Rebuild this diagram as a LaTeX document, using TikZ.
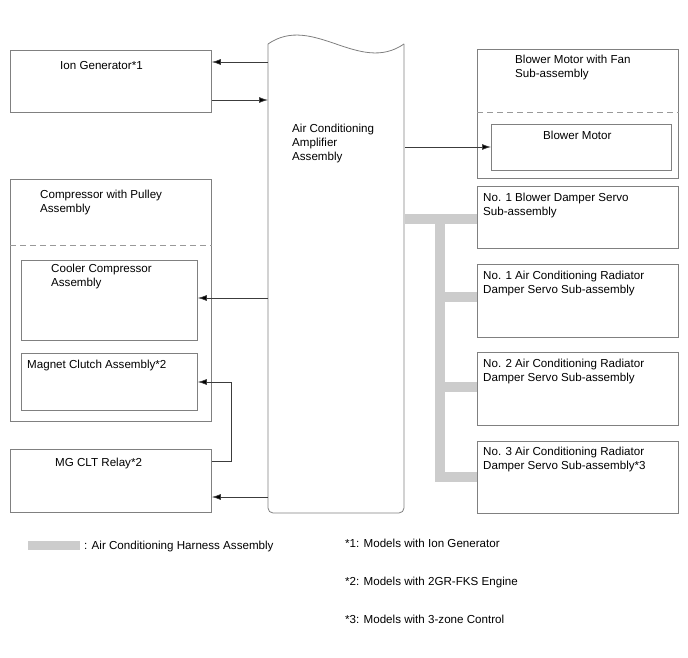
\documentclass[tikz,border=0pt]{standalone}
\usepackage{fontspec}
\setmainfont{Liberation Sans}
\usetikzlibrary{arrows.meta}
\definecolor{bordergray}{RGB}{128,128,128}
\definecolor{harnessgray}{RGB}{204,204,204}
\definecolor{linegray}{RGB}{60,60,60}
\begin{document}
\begin{tikzpicture}[x=1pt,y=-1pt,
  box/.style={draw=bordergray,line width=0.8pt,rectangle,inner sep=0pt,anchor=north west},
  lbl/.style={anchor=north west,inner sep=0pt,align=left,font=\fontsize{11.6}{14}\selectfont,execute at begin node=\strut,yshift=-1.5pt},
  arr/.style={draw=linegray,line width=0.7pt,-{Latex[length=9pt,width=6pt,fill=black]}},
  harness/.style={draw=harnessgray,line width=10pt},
  sep/.style={draw=bordergray!80,line width=0.8pt,dash pattern=on 6pt off 4pt}]
\useasboundingbox (0,0) rectangle (688,658);
% central amplifier
\node[box,draw=none,minimum width=136pt,minimum height=469pt] (amp) at (268,44) {};
\draw[bordergray,line width=0.8pt,rounded corners=5pt]
  (404,44) -- (404,513) -- (268,513) -- (268,44);
\draw[bordergray,line width=0.8pt]
  (268,44) .. controls (313,13) and (359,75) .. (404,44);
\node[lbl] (ampl) at (292,122.2) {Air Conditioning\\Amplifier\\Assembly};
% ion generator
\node[box,minimum width=201pt,minimum height=62pt] (ion) at (10,50) {};
\node[lbl] (ionl) at (60,57.7) {Ion Generator*1};
% blower
\node[box,minimum width=201pt,minimum height=129pt] (blw) at (477,49) {};
\node[lbl] (blwl) at (515,53.2) {Blower Motor with Fan\\Sub-assembly};
\draw[sep] (blw.west |- 0,112) -- (blw.east |- 0,112);
\node[box,minimum width=180pt,minimum height=46pt] (bm) at (491,124) {};
\node[lbl] (bml) at (543,128.2) {Blower Motor};
% compressor
\node[box,minimum width=201pt,minimum height=242pt] (cmp) at (10,179) {};
\node[lbl] (cmpl) at (40,188.2) {Compressor with Pulley\\Assembly};
\draw[sep] (cmp.west |- 0,245) -- (cmp.east |- 0,245);
\node[box,minimum width=176pt,minimum height=80pt] (ccp) at (21,260) {};
\node[lbl] (ccpl) at (51,262.2) {Cooler Compressor\\Assembly};
\node[box,minimum width=176pt,minimum height=57pt] (mag) at (21,353) {};
\node[lbl] (magl) at (27,357.2) {Magnet Clutch Assembly*2};
% relay
\node[box,minimum width=201pt,minimum height=63pt] (rly) at (10,449) {};
\node[lbl] (rlyl) at (55,455.2) {MG CLT Relay*2};
% right servos
\node[box,minimum width=201pt,minimum height=62pt] (d1) at (477,186) {};
\node[lbl] (d1l) at (483,191.2) {No. 1 Blower Damper Servo\\Sub-assembly};
\node[box,minimum width=201pt,minimum height=73pt] (d2) at (477,264) {};
\node[lbl] (d2l) at (483,269.2) {No. 1 Air Conditioning Radiator\\Damper Servo Sub-assembly};
\node[box,minimum width=201pt,minimum height=73pt] (d3) at (477,352) {};
\node[lbl] (d3l) at (483,357.2) {No. 2 Air Conditioning Radiator\\Damper Servo Sub-assembly};
\node[box,minimum width=201pt,minimum height=72pt] (d4) at (477,441) {};
\node[lbl] (d4l) at (483,445.2) {No. 3 Air Conditioning Radiator\\Damper Servo Sub-assembly*3};
% harness
\coordinate (ht) at (440,214);
\coordinate (hb) at (440,482);
\draw[harness] (amp.east |- 0,219) -- (d1.west |- 0,219);
\draw[harness] (ht) -- (hb);
\draw[harness] (440,297) -- (d2.west |- 0,297);
\draw[harness] (440,387) -- (d3.west |- 0,387);
\draw[harness] (440,477) -- (d4.west |- 0,477);
% arrows
\draw[arr] (amp.west |- 0,62) -- (ion.east |- 0,62);
\draw[arr] (ion.east |- 0,100) -- (amp.west |- 0,100);
\draw[arr] (amp.east |- 0,147) -- (bm.west |- 0,147);
\draw[arr] (amp.west |- 0,298) -- (ccp.east |- 0,298);
\coordinate (k) at (231,461);
\draw[arr] (rly.east |- k) -- (k) |- (mag.east |- 0,382);
\draw[arr] (amp.west |- 0,497) -- (rly.east |- 0,497);
% legend
\coordinate (lg1) at (28,545);
\coordinate (lg2) at (80,545);
\draw[draw=harnessgray,line width=9pt] (lg1) -- (lg2);
\node[lbl] (lgl) at (84,538.2) {: Air Conditioning Harness Assembly};
\node[lbl] (f1) at (345,536.2) {*1: Models with Ion Generator};
\node[lbl] (f2) at (345,574.2) {*2: Models with 2GR-FKS Engine};
\node[lbl] (f3) at (345,612.2) {*3: Models with 3-zone Control};
\end{tikzpicture}
\end{document}
